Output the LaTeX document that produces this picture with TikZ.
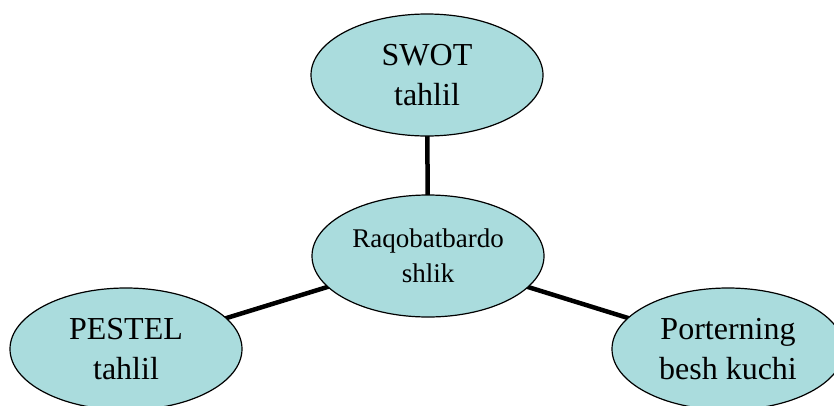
\documentclass[tikz,border=0pt]{standalone}
\usepackage{fontspec}
\setmainfont{Liberation Serif}
\usetikzlibrary{shapes.geometric,backgrounds}
\definecolor{tealfill}{RGB}{170,220,221}
\tikzset{
  bubble/.style={ellipse, draw=black, line width=1.2pt, fill=tealfill,
    minimum width=232pt, minimum height=122pt, inner sep=0pt, align=center},
  big/.style={font=\fontsize{32}{40}\selectfont},
  small/.style={font=\fontsize{27}{35}\selectfont},
  link/.style={line width=4.5pt, black}
}
\begin{document}
\begin{tikzpicture}[x=1pt,y=-1pt]
\useasboundingbox (0,0) rectangle (834,405);
\clip (0,0) rectangle (834,405);
\node[bubble, big] (swot) at (427,75) {SWOT\\tahlil};
\node[bubble, small] (rq) at (428,256) {Raqobatbardo\\shlik};
\node[bubble, big] (pestel) at (126,349) {PESTEL\\tahlil};
\node[bubble, big] (porter) at (728,349) {Porterning\\besh kuchi};
\begin{scope}[on background layer]
\draw[link] (swot.center) -- (rq.center);
\draw[link] (rq.center) -- (pestel.center);
\draw[link] (rq.center) -- (porter.center);
\end{scope}
\end{tikzpicture}
\end{document}
